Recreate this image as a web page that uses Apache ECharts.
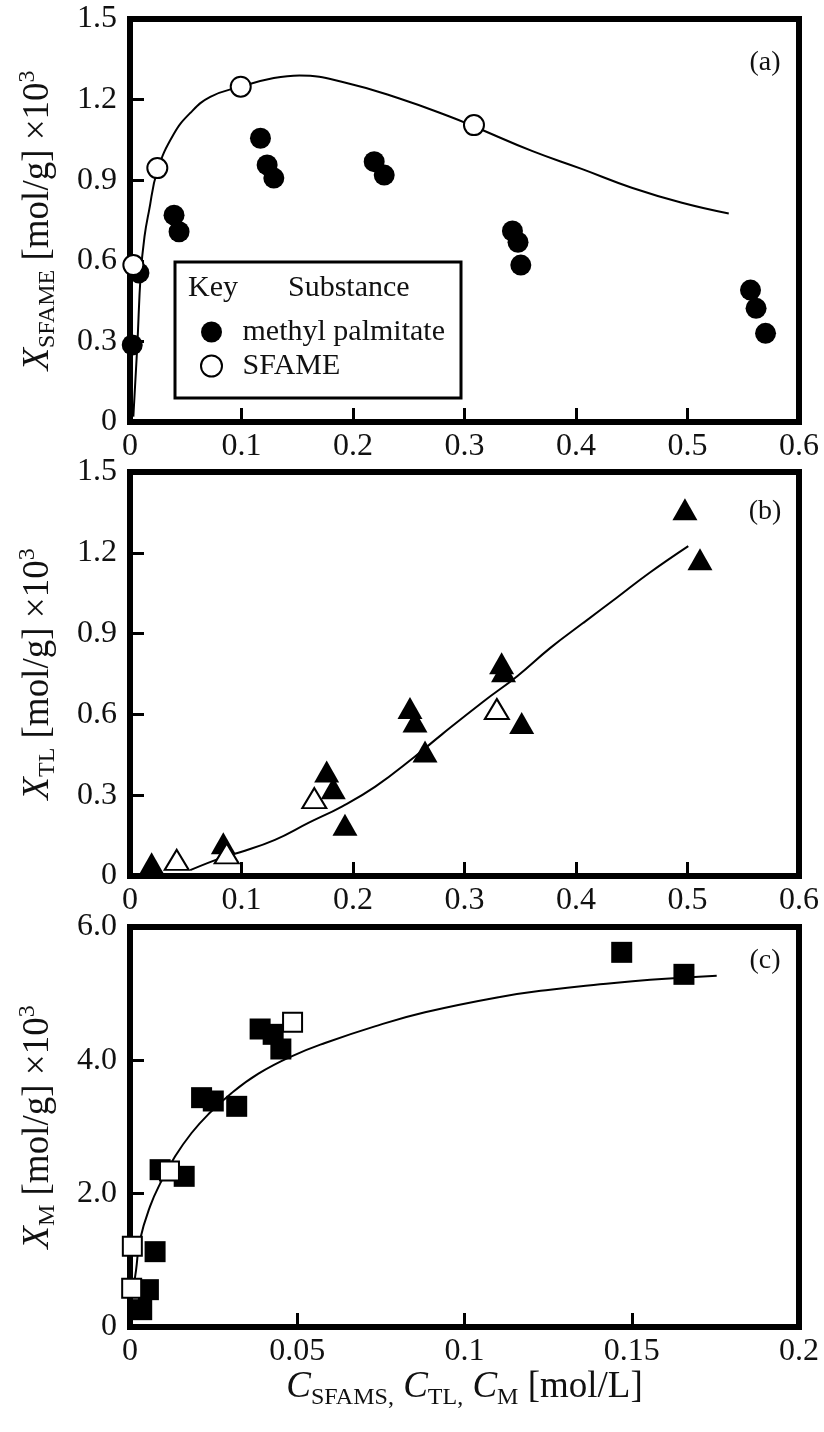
<!DOCTYPE html>
<html>
<head>
<meta charset="utf-8">
<script src="https://cdn.jsdelivr.net/npm/echarts@6/dist/echarts.min.js"></script>
<style>
    html, body { margin: 0; padding: 0; background: #fff; }
    #chart { width: 824px; height: 1432px; }
</style>
</head>
<body>
<div id="chart"></div>
<script>
var serif = "'Liberation Serif', 'Times New Roman', serif";

// (a) SFAME / methyl palmitate
var aPalmitate = [[0.002, 0.287], [0.008, 0.555], [0.0395, 0.77], [0.044, 0.708], [0.117, 1.056],
    [0.123, 0.957], [0.129, 0.908], [0.219, 0.969], [0.228, 0.919], [0.343, 0.711],
    [0.348, 0.669], [0.3505, 0.584], [0.5565, 0.491], [0.5615, 0.423], [0.570, 0.33]];
var aSfame = [[0.003, 0.584], [0.0245, 0.945], [0.0993, 1.248], [0.3085, 1.105]];
var aFit = [[0.003, 0.02], [0.0066, 0.29], [0.0096, 0.55], [0.013, 0.69], [0.017, 0.785],
    [0.0245, 0.935], [0.039, 1.07], [0.054, 1.15], [0.072, 1.21], [0.099, 1.248],
    [0.129, 1.28], [0.152, 1.29], [0.196, 1.26], [0.241, 1.205], [0.286, 1.138],
    [0.3085, 1.10], [0.361, 1.008], [0.405, 0.942], [0.45, 0.872], [0.495, 0.816], [0.537, 0.776]];

// (b) TL
var bFilled = [[0.0194, 0.047], [0.0837, 0.122], [0.1764, 0.388], [0.1823, 0.326], [0.1928, 0.19],
    [0.2511, 0.624], [0.2556, 0.574], [0.2646, 0.462], [0.3333, 0.79], [0.335, 0.76],
    [0.3513, 0.568], [0.4977, 1.362], [0.5112, 1.176]];
var bOpen = [[0.0419, 0.06], [0.0867, 0.084], [0.1653, 0.289], [0.329, 0.62]];
var bFit = [[0.054, 0.022], [0.085, 0.072], [0.0987, 0.088], [0.13, 0.134], [0.16, 0.197],
    [0.19, 0.258], [0.22, 0.332], [0.2556, 0.444], [0.2795, 0.525], [0.317, 0.648],
    [0.347, 0.741], [0.377, 0.847], [0.4066, 0.94], [0.4365, 1.033], [0.466, 1.126], [0.5007, 1.225]];

// (c) M
var cFilled = [[0.0035, 0.26], [0.0055, 0.56], [0.0075, 1.13], [0.009, 2.36], [0.0162, 2.26],
    [0.0214, 3.44], [0.0249, 3.39], [0.0319, 3.31], [0.0389, 4.47], [0.0428, 4.39],
    [0.0451, 4.17], [0.147, 5.62], [0.1656, 5.29]];
var cOpen = [[0.0005, 0.58], [0.0007, 1.21], [0.0118, 2.34], [0.0486, 4.57]];
var cFit = [[0.0012, 0.65], [0.0018, 0.85], [0.003, 1.31], [0.006, 1.81], [0.009, 2.15],
    [0.0135, 2.56], [0.0184, 2.91], [0.0234, 3.19], [0.0304, 3.51], [0.0384, 3.80],
    [0.0483, 4.06], [0.0583, 4.26], [0.0732, 4.51], [0.0882, 4.72], [0.1106, 4.95],
    [0.1256, 5.06], [0.1405, 5.14], [0.1555, 5.21], [0.1754, 5.27]];

// tick labels
var ticksX1 = ['0', '0.1', '0.2', '0.3', '0.4', '0.5', '0.6'];
var ticksX2 = ['0', '0.05', '0.1', '0.15', '0.2'];
var ticksY1 = ['0', '0.3', '0.6', '0.9', '1.2', '1.5'];
var ticksY2 = ['0', '2.0', '4.0', '6.0'];
var panelTags = ['(a)', '(b)', '(c)'];
var legendNames = ['methyl palmitate', 'SFAME'];

var richName = {
    i: {fontFamily: serif, fontStyle: 'italic', fontSize: 37, lineHeight: 44, color: '#111'},
    n: {fontFamily: serif, fontSize: 37, lineHeight: 44, color: '#111'},
    sub: {fontFamily: serif, fontSize: 24, lineHeight: 24, verticalAlign: 'bottom', color: '#111'},
    sup: {fontFamily: serif, fontSize: 24, lineHeight: 24, verticalAlign: 'top', color: '#111'}
};

function valueAxis(ticks, gridIndex, margin) {
    var min = Number(ticks[0]);
    var max = Number(ticks[ticks.length - 1]);
    var step = Number(ticks[1]) - min;
    return {
        type: 'value',
        gridIndex: gridIndex,
        min: min,
        max: max,
        interval: step,
        axisLine: {show: false},
        axisTick: {show: true, inside: true, length: 14, lineStyle: {color: '#000', width: 3}},
        splitLine: {show: false},
        axisLabel: {
            fontFamily: serif, fontSize: 32, color: '#111', margin: margin,
            formatter: function (v) { return ticks[Math.round((v - min) / step)]; }
        }
    };
}

function yAxis(ticks, gridIndex, name) {
    var ax = valueAxis(ticks, gridIndex, 13);
    ax.name = name;
    ax.nameLocation = 'middle';
    ax.nameGap = 70;
    ax.nameTextStyle = {rich: richName};
    return ax;
}

var xA = valueAxis(ticksX1, 0, 9);
var xB = valueAxis(ticksX1, 1, 9);
var xC = valueAxis(ticksX2, 2, 9);
xC.name = '{i|C}{sub|SFAMS,}{n| }{i|C}{sub|TL,}{n| }{i|C}{sub|M}{n| [mol/L]}';
xC.nameLocation = 'middle';
xC.nameGap = 36;
xC.nameTextStyle = {rich: richName};

function fitLine(data, idx) {
    return {
        type: 'line', data: data, xAxisIndex: idx, yAxisIndex: idx,
        smooth: 0.45, showSymbol: false, silent: true,
        lineStyle: {color: '#000', width: 2}, z: 2
    };
}

function dots(name, data, idx, symbol, size, open) {
    return {
        type: 'scatter', name: name, data: data, xAxisIndex: idx, yAxisIndex: idx,
        symbol: symbol, symbolSize: size, clip: false, z: open ? 4 : 3,
        itemStyle: open ? {color: '#fff', borderColor: '#000', borderWidth: 2, opacity: 1}
            : {color: '#000', opacity: 1}
    };
}

var gridBase = {show: true, borderColor: '#000', borderWidth: 6, left: 130, right: 25};

var option = {
    animation: false,
    backgroundColor: '#fff',
    grid: [
        Object.assign({top: 19, height: 403}, gridBase),
        Object.assign({top: 472, height: 404}, gridBase),
        Object.assign({top: 927, height: 400}, gridBase)
    ],
    xAxis: [xA, xB, xC],
    yAxis: [
        yAxis(ticksY1, 0, '{i|X}{sub|SFAME}{n| [mol/g] ×10}{sup|3}'),
        yAxis(ticksY1, 1, '{i|X}{sub|TL}{n| [mol/g] ×10}{sup|3}'),
        yAxis(ticksY2, 2, '{i|X}{sub|M}{n| [mol/g] ×10}{sup|3}')
    ],
    legend: {
        data: legendNames,
        orient: 'vertical',
        left: 200, top: 317,
        padding: 0,
        itemGap: 4,
        itemWidth: 52, itemHeight: 21,
        icon: 'circle',
        textStyle: {fontFamily: serif, fontSize: 30, lineHeight: 30, color: '#111'},
        selectedMode: false,
        z: 20
    },
    graphic: [
        {type: 'rect', shape: {x: 175, y: 262, width: 286, height: 136},
            style: {fill: 'none', stroke: '#000', lineWidth: 3}, z: 10},
        {type: 'text', x: 188, y: 288, style: {text: 'Key', font: '30px ' + serif, fill: '#111', textVerticalAlign: 'middle'}, z: 10},
        {type: 'text', x: 288, y: 288, style: {text: 'Substance', font: '30px ' + serif, fill: '#111', textVerticalAlign: 'middle'}, z: 10},
        {type: 'text', x: 765, y: 63, style: {text: panelTags[0], font: '28px ' + serif, fill: '#111', textAlign: 'center', textVerticalAlign: 'middle'}, z: 10},
        {type: 'text', x: 765, y: 512, style: {text: panelTags[1], font: '28px ' + serif, fill: '#111', textAlign: 'center', textVerticalAlign: 'middle'}, z: 10},
        {type: 'text', x: 765, y: 961, style: {text: panelTags[2], font: '28px ' + serif, fill: '#111', textAlign: 'center', textVerticalAlign: 'middle'}, z: 10}
    ],
    series: [
        fitLine(aFit, 0),
        dots(legendNames[0], aPalmitate, 0, 'circle', 21, false),
        dots(legendNames[1], aSfame, 0, 'circle', 20, true),
        fitLine(bFit, 1),
        dots('TL', bFilled, 1, 'triangle', [25, 22], false),
        dots('TL open', bOpen, 1, 'triangle', [24, 20], true),
        fitLine(cFit, 2),
        dots('M', cFilled, 2, 'rect', 21, false),
        dots('M open', cOpen, 2, 'rect', 19, true)
    ]
};

var chart = echarts.init(document.getElementById('chart'));
chart.setOption(option);
</script>
</body>
</html>
